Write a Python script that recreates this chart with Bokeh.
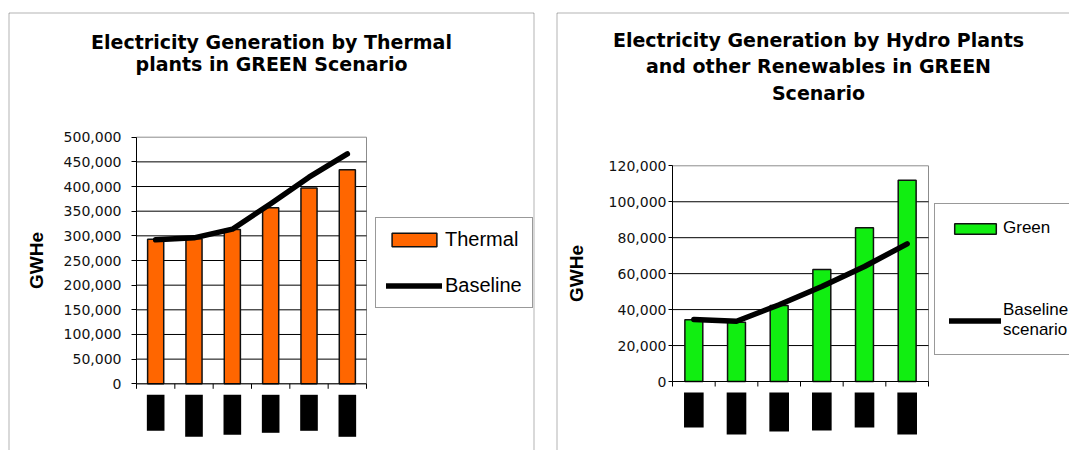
from bokeh.plotting import figure
from bokeh.models import (Range1d, FixedTicker, NumeralTickFormatter, Legend, LegendItem,
                          Label, BoxAnnotation, ColumnDataSource)
from bokeh.layouts import row
from bokeh.embed import file_html
from bokeh.resources import INLINE

# ---------------- data ----------------
n_periods = 6  # category labels are blacked out in the original
thermal = [293000, 294000, 313000, 357000, 397000, 434000]
thermal_baseline = [292000, 296000, 313500, 365000, 419000, 466000]
thermal_ticks = [0, 50000, 100000, 150000, 200000, 250000, 300000, 350000, 400000, 450000, 500000]

green = [34300, 33000, 42300, 62300, 85500, 112000]
green_baseline = [34500, 33500, 42700, 52800, 64000, 76600]
green_ticks = [0, 20000, 40000, 60000, 80000, 100000, 120000]

title_thermal = "Electricity Generation by Thermal\nplants in GREEN Scenario"
title_green = "Electricity Generation by Hydro Plants\nand other Renewables in GREEN\nScenario"
legend_thermal = ["Thermal", "Baseline"]
legend_green = ["Green", "Baseline\nscenario"]
y_label = "GWHe"

# lengths (px) of the blacked-out category labels under each bar
label_blocks_thermal = [36, 42, 40, 38, 36, 42]
label_blocks_green = [35, 42, 39, 38, 35, 42]


def make_panel(width, height, frame_px, box_px, values, baseline, ticks, fill,
               title, title_xy, title_size, title_lh, labels, leg, tick_standoff,
               tick_out, label_standoff, blocks, block_gap):
    left_px, right_px, top_px, axis_px = frame_px
    n = len(values)
    ymax = ticks[-1]
    xs = n / (right_px - left_px)
    ys = ymax / (axis_px - top_px)
    x_range = Range1d(-left_px * xs, n + (width - right_px) * xs)
    y_range = Range1d(-(height - axis_px) * ys, ymax + top_px * ys)

    def xd(px):
        return x_range.start + px * xs

    def yd(px):
        return y_range.end - px * ys

    p = figure(width=width, height=height, x_range=x_range, y_range=y_range,
               min_border=0, toolbar_location=None, output_backend="svg",
               outline_line_color=None, background_fill_color="white",
               border_fill_color="white")
    p.extra_y_ranges = {"px": Range1d(start=-(height - axis_px), end=axis_px)}

    xc = [i + 0.5 for i in range(n)]
    src = ColumnDataSource(dict(x=xc, top=values, base=baseline,
                                btop=[-block_gap] * n,
                                bbot=[-(block_gap + b) for b in blocks]))

    # plot-area frame (grey top/right)
    p.quad(left=0, right=n, bottom=0, top=ymax, fill_color=None,
           line_color="#8c8c8c", line_width=1)
    # horizontal gridlines limited to the plot area
    gl = ticks[1:-1]
    p.segment(x0=[0] * len(gl), x1=[n] * len(gl), y0=gl, y1=gl,
              line_color="black", line_width=1)

    bars = p.vbar(x="x", top="top", bottom=0, width=0.42, source=src,
                  fill_color=fill, line_color="#111111", line_width=1.5)
    line = p.line(x="x", y="base", source=src, line_color="black", line_width=5.5,
                  line_cap="round", line_join="round")
    # blacked-out category labels
    p.vbar(x="x", top="btop", bottom="bbot", width=0.46, source=src,
           fill_color="black", line_color=None, y_range_name="px")

    # category axis line and boundary tick marks
    p.segment(x0=[0], x1=[n], y0=[0], y1=[0], line_color="black", line_width=1)
    bounds = list(range(n + 1))
    p.segment(x0=bounds, x1=bounds, y0=[0] * (n + 1), y1=[-5] * (n + 1),
              line_color="black", line_width=1, y_range_name="px")
    p.xaxis.visible = False

    # value axis inside the frame
    ya = p.yaxis[0]
    ya.fixed_location = 0
    ya.bounds = (0, ymax)
    ya.ticker = FixedTicker(ticks=ticks)
    ya.formatter = NumeralTickFormatter(format="0,0")
    ya.major_tick_out = tick_out
    ya.major_tick_in = 0
    ya.minor_tick_out = 0
    ya.minor_tick_in = 0
    ya.axis_line_color = "black"
    ya.major_tick_line_color = "black"
    ya.major_label_text_font = "DejaVu Sans"
    ya.major_label_text_font_size = "14px"
    ya.major_label_text_color = "#111111"
    ya.major_label_standoff = tick_standoff
    ya.axis_label = y_label
    ya.axis_label_text_font = "Liberation Sans"
    ya.axis_label_text_font_style = "bold"
    ya.axis_label_text_font_size = "19px"
    ya.axis_label_text_color = "black"
    ya.axis_label_standoff = label_standoff

    p.xgrid.visible = False
    p.ygrid.visible = False

    # panel border
    bl, br, bt = box_px
    p.add_layout(BoxAnnotation(left=xd(bl), right=xd(br), top=yd(bt), bottom=yd(height + 20),
                               fill_color=None, fill_alpha=0, line_color="black",
                               line_width=1))

    # title
    p.add_layout(Label(x=title_xy[0], y=height - title_xy[1], x_units="screen",
                       y_units="screen", text=title, text_align="center",
                       text_baseline="middle", text_font="DejaVu Sans",
                       text_font_style="bold", text_font_size=title_size,
                       text_line_height=title_lh, text_color="black"))

    legend = Legend(items=[LegendItem(label=labels[0], renderers=[bars]),
                           LegendItem(label=labels[1], renderers=[line])],
                    location=(leg["x"], height - leg["bottom"]),
                    orientation="vertical", margin=0,
                    padding=leg["padding"], spacing=leg["spacing"],
                    glyph_width=leg["gw"], glyph_height=leg["gh"],
                    label_height=leg["lh"], label_standoff=leg["ls"],
                    label_text_font="Liberation Sans",
                    label_text_font_size=leg["fs"],
                    label_text_color="black",
                    border_line_color="#333333", border_line_width=1,
                    background_fill_color="white", background_fill_alpha=1)
    p.add_layout(legend)
    return p


p1 = make_panel(545, 450, (136, 366, 136.7, 383.3), (8.5, 533.5, 12.5),
                thermal, thermal_baseline, thermal_ticks, "#FF6600",
                title_thermal, (271, 52.5), "19px", 1.0, legend_thermal,
                dict(x=375, bottom=308, padding=10, spacing=23, gw=56, gh=17,
                     lh=22, fs="20px", ls=3),
                10, 5, 14, label_blocks_thermal, 11)

p2 = make_panel(524, 450, (127, 383, 165.3, 381), (11.5, 560, 12.5),
                green, green_baseline, green_ticks, "#11EE11",
                title_green, (273, 66), "19px", 1.2, legend_green,
                dict(x=389, bottom=355, padding=14, spacing=62, gw=52, gh=13,
                     lh=20, fs="17px", ls=2),
                2, 4, 19, label_blocks_green, 11)

layout = row(p1, p2)
open("out.html", "w").write(file_html(layout, INLINE))
